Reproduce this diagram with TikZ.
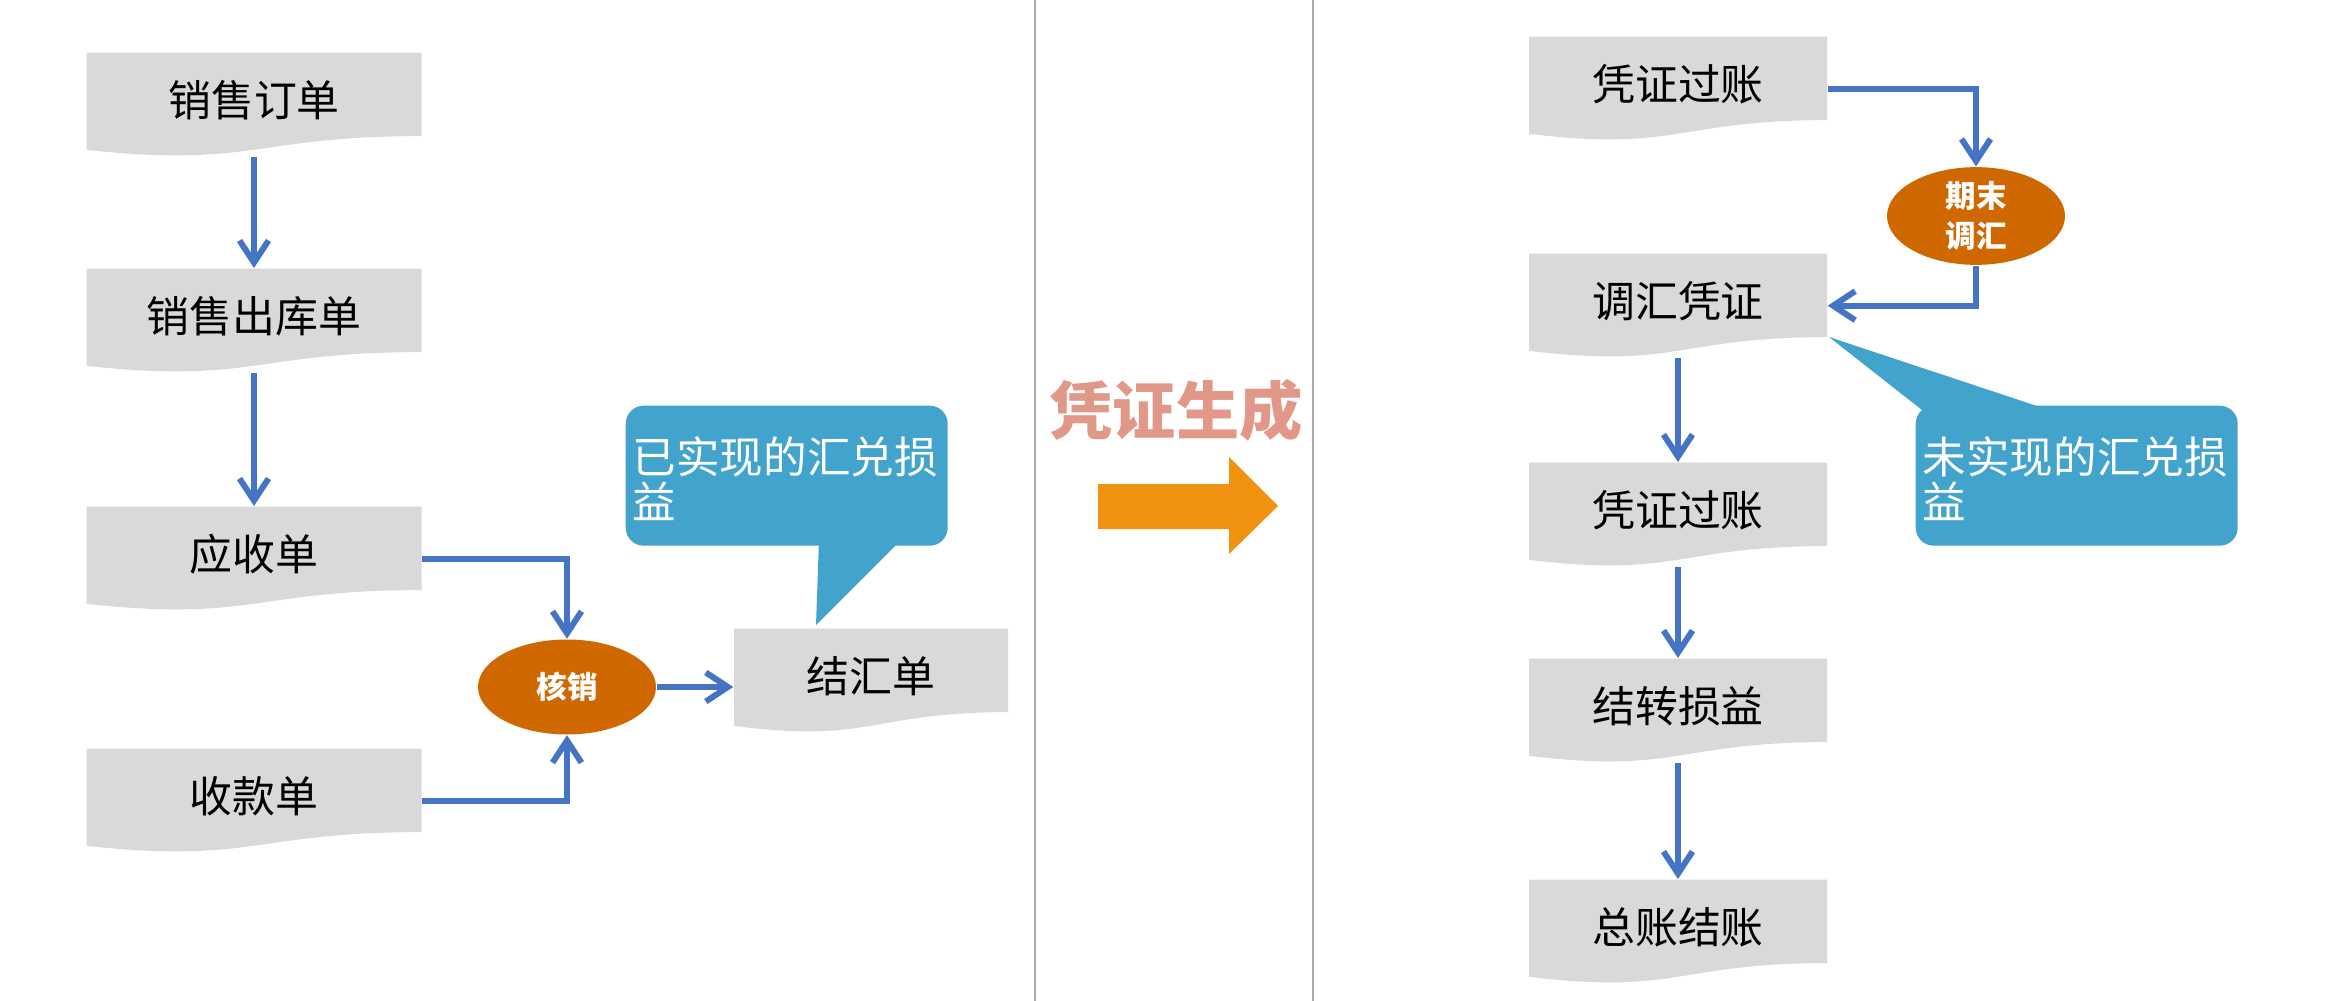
\documentclass[tikz,border=0pt]{standalone}
\usepackage{fontspec}
\setmainfont{Noto Sans CJK SC}
\usepackage{tikz}
\usetikzlibrary{arrows.meta, calc, shapes.geometric}
\definecolor{grisito}{RGB}{217,217,217}
\definecolor{azulcito}{RGB}{70,116,196}
\definecolor{naranjito}{RGB}{208,104,0}
\definecolor{celestito}{RGB}{66,163,204}
\definecolor{ambarcito}{RGB}{240,145,15}
\definecolor{salmoncito}{RGB}{226,152,136}
\definecolor{grisoscuro}{RGB}{168,168,168}
\tikzset{>={Straight Barb[length=2.2mm, width=2.9mm]}}

\begin{document}
\begin{tikzpicture}[x=0.1mm, y=-0.1mm, font=\fontsize{12.2}{14}\selectfont,
    docbox/.style={rectangle, inner sep=0pt, anchor=north, text depth=1.3mm,
      minimum width=#1, minimum height=10.4mm,
      path picture={
        \fill[grisito] let \p1=(path picture bounding box.north west),
          \p2=(path picture bounding box.south east),
          \n1={\x2-\x1}, \n2={\y1-\y2} in
          (\x1,\y1) -- (\x2,\y1) -- (\x2,{\y1-0.802*\n2})
          .. controls ({\x1+0.5*\n1},{\y1-0.802*\n2}) and ({\x1+0.5*\n1},{\y1-1.1075*\n2})
          .. (\x1,{\y1-0.934*\n2}) -- cycle;}},
    bola/.style={ellipse, fill=naranjito, text=white, inner sep=0pt,
      minimum width=17.8mm, minimum height=9.5mm, align=center,
      font=\fontsize{8.7}{11.4}\selectfont\bfseries},
    flecha/.style={->, azulcito, line width=0.6mm},
    globo/.style={rectangle, fill=celestito, rounded corners=1.8mm, anchor=north west,
      minimum width=32.2mm, minimum height=14mm},
    globotexto/.style={anchor=north west, inner sep=0pt, text=white, align=left,
      font=\fontsize{12.4}{12.7}\selectfont}]
    \useasboundingbox (0,0) rectangle (2335,1001);
    \fill[white] (0,0) rectangle (2335,1001);
    % separators
    \draw[grisoscuro, line width=0.25mm] (1035,0) -- (1035,1001);
    \draw[grisoscuro, line width=0.25mm] (1313,0) -- (1313,1001);
    % left flow
    \node[docbox=33.5mm] (order) at (254,52) {销售订单};
    \node[docbox=33.5mm] (outbound) at (254,268) {销售出库单};
    \node[docbox=33.5mm] (receivable) at (254,506) {应收单};
    \node[docbox=33.5mm] (receipt) at (254,748) {收款单};
    \node[docbox=27.4mm] (settle) at (871,628) {结汇单};
    \node[bola] (writeoff) at (567,687) {核销};
    \draw[flecha] (order) -- (outbound);
    \draw[flecha] (outbound) -- (receivable);
    \draw[flecha] (receivable.east) -| (writeoff.north);
    \draw[flecha] (receipt.east) -| (writeoff.south);
    \draw[flecha] (writeoff.east) -- (writeoff.east -| settle.west);
    % realized gains callout
    \node[globo] (realbox) at (625,405) {};
    \fill[celestito] (819,540) -- (816,625) -- (901,540) -- cycle;
    \node[globotexto] (realtext) at (632,436) {已实现的汇兑损\\益};
    % middle: title and big arrow
    \node[text=salmoncito, font=\fontsize{18}{20}\selectfont\bfseries] (title) at (1176,410) {凭证生成};
    \fill[ambarcito] (1098,484) -- (1229,484) -- (1229,457) -- (1278,506)
      -- (1229,554) -- (1229,529) -- (1098,529) -- cycle;
    % right flow
    \node[docbox=29.8mm] (post1) at (1678,36) {凭证过账};
    \node[docbox=29.8mm] (adjust) at (1678,253) {调汇凭证};
    \node[docbox=29.8mm] (post2) at (1678,462) {凭证过账};
    \node[docbox=29.8mm] (carry) at (1678,658) {结转损益};
    \node[docbox=29.8mm] (close) at (1678,879) {总账结账};
    \node[bola] (reval) at (1976,216) {期末\\调汇};
    \draw[flecha] (post1.east) -| (reval.north);
    \draw[flecha] (reval.south) |- (adjust.east);
    \draw[flecha] (adjust) -- (post2);
    \draw[flecha] (post2) -- (carry);
    \draw[flecha] (carry) -- (close);
    % unrealized gains callout
    \node[globo] (unrealbox) at (1915,405) {};
    \fill[celestito] (1922,410) -- (1829,337) -- (2049,410) -- cycle;
    \node[globotexto] (unrealtext) at (1922,436) {未实现的汇兑损\\益};
\end{tikzpicture}
\end{document}
